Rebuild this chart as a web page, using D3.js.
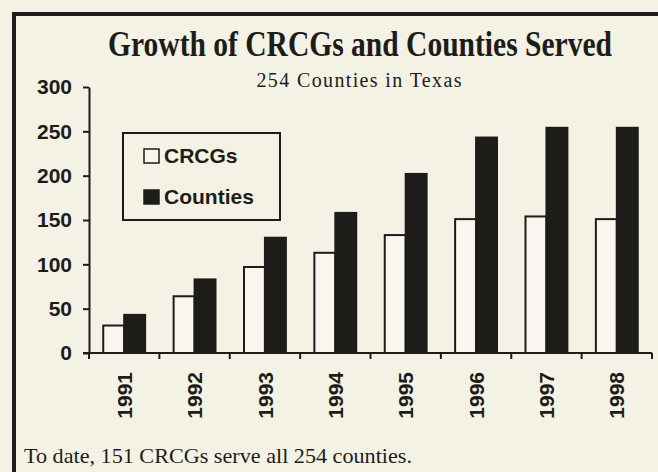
<!DOCTYPE html>
<html>
<head>
<meta charset="utf-8">
<script src="https://cdn.jsdelivr.net/npm/d3@7"></script>
<style>
  html, body { margin: 0; padding: 0; background: #f4f1e5; }
  svg { display: block; }
</style>
</head>
<body>
<div id="chart"></div>
<script>
// chart data
var years = ["1991", "1992", "1993", "1994", "1995", "1996", "1997", "1998"];
var series = ["CRCGs", "Counties"];
var crcgs = [31, 64, 97, 113, 133, 151, 154, 151];
var counties = [43, 83, 130, 158, 202, 243, 254, 254];
var yTicks = [0, 50, 100, 150, 200, 250, 300];

var title = "Growth of CRCGs and Counties Served";
var subtitle = "254 Counties in Texas";
var footnote = "To date, 151 CRCGs serve all 254 counties.";

(function() {
    var width = 658, height = 472;
    var ink = '#1e1c19';
    var paper = '#f4f1e5';
    var sans = '"Liberation Sans", Arial, sans-serif';
    var serif = '"Liberation Serif", "Times New Roman", serif';

    var svg = d3.select('#chart').append('svg')
        .attr('width', width)
        .attr('height', height);

    svg.append('rect')
        .attr('width', width).attr('height', height)
        .style('fill', paper);

    // thick outer frame (runs off right and bottom edges)
    svg.append('rect')
        .attr('x', 14).attr('y', 14)
        .attr('width', 700).attr('height', 500)
        .style('fill', 'none')
        .style('stroke', ink)
        .style('stroke-width', 4);

    // scales
    var y = d3.scaleLinear().domain([0, 300]).range([353, 87]);
    var x0 = d3.scaleBand().domain(years).range([89, 652]).padding(0);
    var x1 = d3.scaleBand().domain(series).range([0, x0.bandwidth()])
        .paddingInner(0).paddingOuter(0.68);

    var rows = years.map(function(yr, i) {
        return { year: yr, values: [crcgs[i], counties[i]] };
    });

    // bars
    var groups = svg.append('g').selectAll('g')
        .data(rows).enter().append('g')
        .attr('transform', function(d) { return 'translate(' + x0(d.year) + ',0)'; });

    groups.selectAll('rect')
        .data(function(d) { return d.values.map(function(v, j) { return { s: series[j], v: v }; }); })
        .enter().append('rect')
        .attr('x', function(d) { return x1(d.s); })
        .attr('y', function(d) { return y(d.v); })
        .attr('width', x1.bandwidth())
        .attr('height', function(d) { return y(0) - y(d.v); })
        .style('fill', function(d) { return d.s === 'CRCGs' ? '#f8f6ee' : ink; })
        .style('stroke', ink)
        .style('stroke-width', 2);

    // y axis
    var yAxis = svg.append('g')
        .attr('transform', 'translate(89,0)')
        .call(d3.axisLeft(y).tickValues(yTicks).tickSize(6).tickSizeOuter(0).tickPadding(11));
    yAxis.select('.domain').style('stroke', ink).style('stroke-width', 2);
    yAxis.selectAll('.tick line').style('stroke', ink).style('stroke-width', 2);
    yAxis.selectAll('.tick text')
        .style('font-family', sans)
        .style('font-weight', 'bold')
        .style('font-size', '21px')
        .style('fill', ink);

    // x axis: line, ticks at band edges, rotated labels
    var xAxis = svg.append('g');
    xAxis.append('line')
        .attr('x1', 83).attr('x2', x0.range()[1])
        .attr('y1', y(0)).attr('y2', y(0))
        .style('stroke', ink).style('stroke-width', 2);
    var edges = years.map(function(d) { return x0(d); }).concat([x0.range()[1]]);
    xAxis.selectAll('line.edge')
        .data(edges).enter().append('line')
        .attr('class', 'edge')
        .attr('x1', function(d) { return d; }).attr('x2', function(d) { return d; })
        .attr('y1', y(0)).attr('y2', y(0) + 6)
        .style('stroke', ink).style('stroke-width', 2);
    xAxis.selectAll('text')
        .data(years).enter().append('text')
        .attr('transform', function(d) {
            return 'translate(' + (x0(d) + x0.bandwidth() / 2) + ',372) rotate(-90)';
        })
        .attr('dy', '0.36em')
        .attr('text-anchor', 'end')
        .style('font-family', sans)
        .style('font-weight', 'bold')
        .style('font-size', '21px')
        .style('fill', ink)
        .text(function(d) { return d; });

    // legend
    var legend = svg.append('g');
    legend.append('rect')
        .attr('x', 123).attr('y', 133)
        .attr('width', 157).attr('height', 87)
        .style('fill', 'none')
        .style('stroke', ink)
        .style('stroke-width', 2);
    var items = legend.selectAll('g.item')
        .data(series).enter().append('g')
        .attr('class', 'item')
        .attr('transform', function(d, i) { return 'translate(0,' + (i * 41) + ')'; });
    items.append('rect')
        .attr('x', 144).attr('y', 149)
        .attr('width', 15).attr('height', 14)
        .style('fill', function(d) { return d === 'CRCGs' ? '#f8f6ee' : ink; })
        .style('stroke', ink)
        .style('stroke-width', 1.5);
    items.append('text')
        .attr('x', 164).attr('y', 163)
        .style('font-family', sans)
        .style('font-weight', 'bold')
        .style('font-size', '21px')
        .style('fill', ink)
        .text(function(d) { return d; });

    // title: condensed serif, squeezed horizontally to fit
    var titleText = svg.append('text')
        .attr('text-anchor', 'middle')
        .style('font-family', serif)
        .style('font-weight', 'bold')
        .style('font-size', '35px')
        .style('fill', ink)
        .text(title);
    var tw = titleText.node().getComputedTextLength();
    var sx = Math.min(1, 504 / tw);
    titleText.attr('transform', 'translate(360,56) scale(' + sx + ',1)');

    svg.append('text')
        .attr('x', 359).attr('y', 87)
        .attr('text-anchor', 'middle')
        .attr('textLength', 205)
        .attr('lengthAdjust', 'spacing')
        .style('font-family', serif)
        .style('font-size', '20px')
        .style('fill', ink)
        .text(subtitle);

    svg.append('text')
        .attr('x', 24).attr('y', 463)
        .attr('textLength', 388)
        .attr('lengthAdjust', 'spacingAndGlyphs')
        .style('font-family', serif)
        .style('font-size', '21px')
        .style('fill', ink)
        .text(footnote);
})();
</script>
</body>
</html>
